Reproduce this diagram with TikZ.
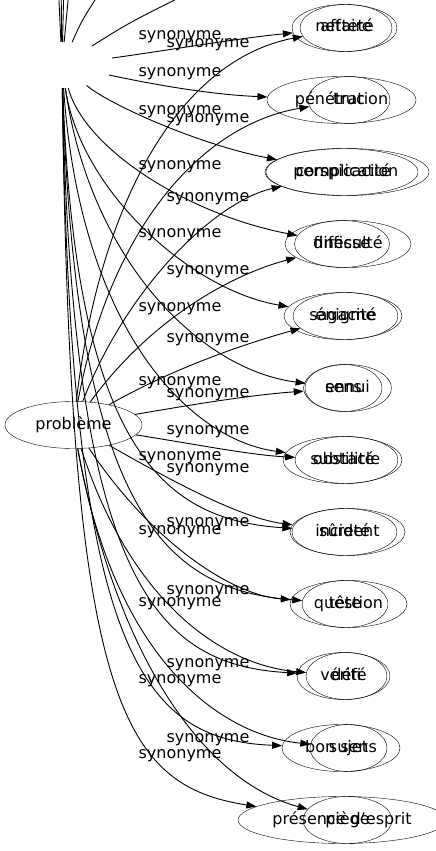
\documentclass[tikz,border=0pt]{standalone}
\usepackage{fontspec}
\setmainfont{DejaVu Sans}
\usetikzlibrary{arrows.meta,shapes.geometric}

\begin{document}
\begin{tikzpicture}[x=1pt,y=-1pt,font=\fontsize{16}{19}\selectfont,
  word/.style={ellipse,draw,inner sep=0pt,minimum height=47pt,text height=12pt,text depth=4pt},
  syn/.style={inner sep=0pt,text height=12pt,text depth=4pt},
  link/.style={-{Triangle[length=10pt,width=7pt]},line width=0.9pt}]
\useasboundingbox (0,0) rectangle (436,851);
\clip (0,0) rectangle (436,851);

\node[ellipse,inner sep=0pt,minimum width=104pt,minimum height=46pt] (pv) at (62,65) {};
\node[word,minimum width=137pt] (pb) at (73.5,425) {problème};

\node[word,minimum width=105pt] (b1) at (344.5,28) {netteté};
\node[word,minimum width=92pt] (a1) at (346,28) {affaire};
\node[word,minimum width=149pt] (b2) at (341.5,100) {pénétration};
\node[word,minimum width=82pt] (a2) at (349,100) {truc};
\node[word,minimum width=152pt] (b3) at (342,172) {perspicacité};
\node[word,minimum width=164pt] (a3) at (347,172) {complication};
\node[word,minimum width=95pt] (b4) at (342,244) {finesse};
\node[word,minimum width=126pt] (a4) at (348,244) {difficulté};
\node[word,minimum width=118pt] (b5) at (343,316) {sagacité};
\node[word,minimum width=105pt] (a5) at (345.5,316) {énigme};
\node[word,minimum width=77pt] (b6) at (343.5,388) {sens};
\node[word,minimum width=88pt] (a6) at (347.5,388) {ennui};
\node[word,minimum width=119pt] (b7) at (342.5,460) {subtilité};
\node[word,minimum width=103pt] (a7) at (346.5,460) {obstacle};
\node[word,minimum width=105pt] (b8) at (344.5,532) {sûreté};
\node[word,minimum width=115pt] (a8) at (347.5,532) {incident};
\node[word,minimum width=86pt] (b9) at (345,604) {tête};
\node[word,minimum width=117pt] (a9) at (348.5,604) {question};
\node[word,minimum width=93pt] (b10) at (343.5,676) {vérité};
\node[word,minimum width=81pt] (a10) at (346.5,676) {défi};
\node[word,minimum width=118pt] (b11) at (341,748) {bon sens};
\node[word,minimum width=77pt] (a11) at (348.5,748) {sujet};
\node[word,minimum width=208pt] (b12) at (342,820) {présence d'esprit};
\node[word,minimum width=89pt] (a12) at (347.5,820) {piège};

\coordinate (u1) at (58,-20);
\coordinate (u2) at (61,-20);
\coordinate (u3) at (64,-20);
\coordinate (u4) at (70,-20);
\coordinate (u5) at (108,-20);
\coordinate (u6) at (225,-25);

\draw[link] (pv) -- (u1);
\draw[link] (pv) -- (u2);
\draw[link] (pv) -- (u3);
\draw[link] (pv) -- (u4);
\draw[link] (pv) .. controls (82,20) .. (u5);
\draw[link] (pv) .. controls (130,22) .. (u6);

\draw[link] (pv) .. controls (170,50) and (240,38) .. (b1);
\draw[link] (pv) .. controls (170,88) and (220,95) .. (b2);
\draw[link] (pv) .. controls (110,105) and (200,145) .. (b3);
\draw[link] (pv) .. controls (85,150) and (190,215) .. (b4);
\draw[link] (pv) .. controls (80,190) and (190,290) .. (b5);
\draw[link] (pv) .. controls (90,260) and (200,370) .. (b6);
\draw[link] (pv) .. controls (80,330) and (190,440) .. (b7);
\draw[link] (pv) .. controls (75,460) and (170,520) .. (b8);
\draw[link] (pv) .. controls (75,520) and (170,590) .. (b9);
\draw[link] (pv) .. controls (72,590) and (160,665) .. (b10);
\draw[link] (pv) .. controls (70,650) and (140,740) .. (b11);
\draw[link] (pv) .. controls (70,700) and (120,785) .. (b12);

\draw[link] (pb) .. controls (100,200) and (180,60) .. (a1);
\draw[link] (pb) .. controls (110,230) and (200,125) .. (a2);
\draw[link] (pb) .. controls (130,280) and (220,200) .. (a3);
\draw[link] (pb) .. controls (150,320) and (230,275) .. (a4);
\draw[link] (pb) .. controls (170,370) and (240,345) .. (a5);
\draw[link] (pb) .. controls (190,405) and (250,395) .. (a6);
\draw[link] (pb) .. controls (200,445) and (250,455) .. (a7);
\draw[link] (pb) .. controls (170,480) and (240,518) .. (a8);
\draw[link] (pb) .. controls (150,540) and (230,595) .. (a9);
\draw[link] (pb) .. controls (130,600) and (220,665) .. (a10);
\draw[link] (pb) .. controls (115,660) and (220,735) .. (a11);
\draw[link] (pb) .. controls (115,650) and (200,780) .. (a12);

\node[syn] (l1) at (180,36) {synonyme};
\node[syn] (l2) at (180,73) {synonyme};
\node[syn] (l3) at (180,110) {synonyme};
\node[syn] (l4) at (180,165) {synonyme};
\node[syn] (l5) at (180,233) {synonyme};
\node[syn] (l6) at (180,307) {synonyme};
\node[syn] (l7) at (180,381) {synonyme};
\node[syn] (l8) at (180,456) {synonyme};
\node[syn] (l9) at (180,530) {synonyme};
\node[syn] (l10) at (180,602) {synonyme};
\node[syn] (l11) at (180,679) {synonyme};
\node[syn] (l12) at (180,754) {synonyme};

\node[syn] (m1) at (208,44) {synonyme};
\node[syn] (m2) at (208,118) {synonyme};
\node[syn] (m3) at (208,197) {synonyme};
\node[syn] (m4) at (208,270) {synonyme};
\node[syn] (m5) at (208,338) {synonyme};
\node[syn] (m6) at (208,393) {synonyme};
\node[syn] (m7) at (208,430) {synonyme};
\node[syn] (m8) at (208,468) {synonyme};
\node[syn] (m9) at (208,522) {synonyme};
\node[syn] (m10) at (208,590) {synonyme};
\node[syn] (m11) at (208,663) {synonyme};
\node[syn] (m12) at (208,738) {synonyme};
\end{tikzpicture}
\end{document}
